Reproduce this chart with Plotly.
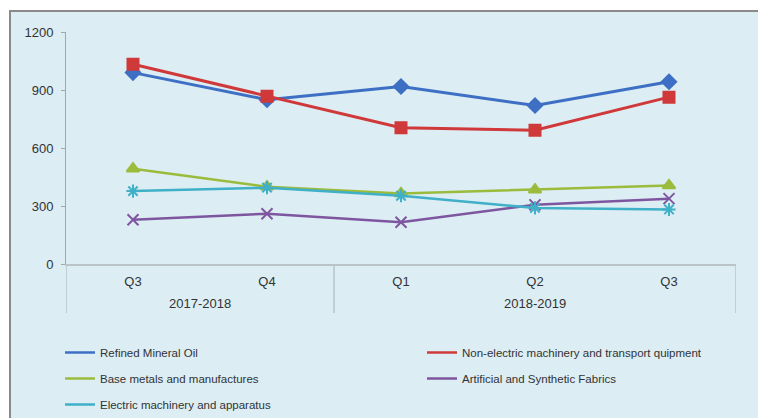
import plotly.graph_objects as go

years = ["2017-2018", "2017-2018", "2018-2019", "2018-2019", "2018-2019"]
quarters = ["Q3", "Q4", "Q1", "Q2", "Q3"]

refined_oil = [990, 850, 918, 820, 943]
non_electric = [1033, 868, 705, 692, 863]
base_metals = [493, 400, 365, 384, 406]
artificial_fabrics = [229, 260, 216, 306, 338]
electric_machinery = [377, 395, 353, 290, 282]

xpos = list(range(len(quarters)))

series = [
    ("Refined Mineral Oil", refined_oil, "#3d6fc4", "diamond", 11, 3, "legend"),
    ("Non-electric machinery and transport quipment", non_electric, "#d0393a", "square", 11, 3, "legend2"),
    ("Base metals and manufactures", base_metals, "#9bbb3c", "triangle-up", 11, 2.5, "legend"),
    ("Artificial and Synthetic Fabrics", artificial_fabrics, "#7e56a0", "x-thin-open", 11, 2.5, "legend2"),
    ("Electric machinery and apparatus", electric_machinery, "#3fb0c8", "asterisk-open", 11, 2.5, "legend"),
]

fig = go.Figure()
for i, (name, vals, color, sym, ms, lw, lg) in enumerate(series):
    fig.add_trace(go.Scatter(
        x=xpos, y=vals, mode="lines+markers", name=name,
        line=dict(color=color, width=lw),
        marker=dict(symbol=sym, size=ms, color=color, line=dict(color=color, width=2)),
        showlegend=False, legendgroup=f"g{i}",
    ))
    fig.add_trace(go.Scatter(
        x=[None], y=[None], mode="lines", name=name,
        line=dict(color=color, width=2.5), showlegend=True, legendgroup=f"g{i}",
        legend=lg,
    ))

L, R, T, B = 66, 22, 32, 154
W, H = 758, 418
pw, ph = W - L - R, H - T - B

def px2x(px):
    return (px - L) / pw

def px2y(py):
    return (H - B - py) / ph

def cx(px):
    return px / W

def cy(py):
    return 1 - py / H

fig.add_shape(type="rect", xref="paper", yref="paper",
              x0=px2x(10), x1=px2x(1000), y0=px2y(800), y1=px2y(11),
              fillcolor="#dcedf3", line=dict(color="#8a8a8a", width=2), layer="below")

# group labels and dividers for the two-level category axis
groups = []
for i, y in enumerate(years):
    if not groups or groups[-1][0] != y:
        groups.append([y, i, i])
    else:
        groups[-1][2] = i
div_color = "#b8c4c8"
for gname, a, b in groups:
    fig.add_annotation(x=(a + b) / 2, xref="x", y=px2y(303), yref="paper",
                       text=gname, showarrow=False, yanchor="middle",
                       font=dict(family="Liberation Sans, Arial, sans-serif", size=13, color="#333333"))
edges = [groups[0][1] - 0.5] + [g[2] + 0.5 for g in groups]
for e in edges:
    fig.add_shape(type="line", xref="x", yref="paper", x0=e, x1=e,
                  y0=0, y1=px2y(313), line=dict(color=div_color, width=1.5))

axis_font = dict(family="Liberation Sans, Arial, sans-serif", size=13, color="#333333")
legend_font = dict(family="Liberation Sans, Arial, sans-serif", size=11.5, color="#333333")
fig.update_layout(
    width=W, height=H,
    margin=dict(l=L, r=R, t=T, b=B, autoexpand=False),
    paper_bgcolor="white",
    plot_bgcolor="rgba(0,0,0,0)",
    font=axis_font,
    xaxis=dict(range=[-0.5, len(quarters) - 0.5], tickvals=xpos, ticktext=quarters,
               showline=True, linecolor=div_color, linewidth=2, zeroline=False,
               showgrid=False, ticks="", tickfont=axis_font, ticklabelstandoff=4),
    yaxis=dict(range=[0, 1200], tickvals=[0, 300, 600, 900, 1200], showline=True,
               linecolor="#a0a8ab", linewidth=1, showgrid=False, zeroline=False,
               ticks="outside", ticklen=4, tickcolor="#a0a8ab", tickfont=axis_font,
               ticklabelstandoff=5),
    legend=dict(xref="container", yref="container", x=cx(60), y=cy(338),
                xanchor="left", yanchor="top",
                bgcolor="rgba(0,0,0,0)", tracegroupgap=7, font=legend_font),
    legend2=dict(xref="container", yref="container", x=cx(422), y=cy(338),
                 xanchor="left", yanchor="top",
                 bgcolor="rgba(0,0,0,0)", tracegroupgap=7, font=legend_font),
)

fig.write_html("out.html")
